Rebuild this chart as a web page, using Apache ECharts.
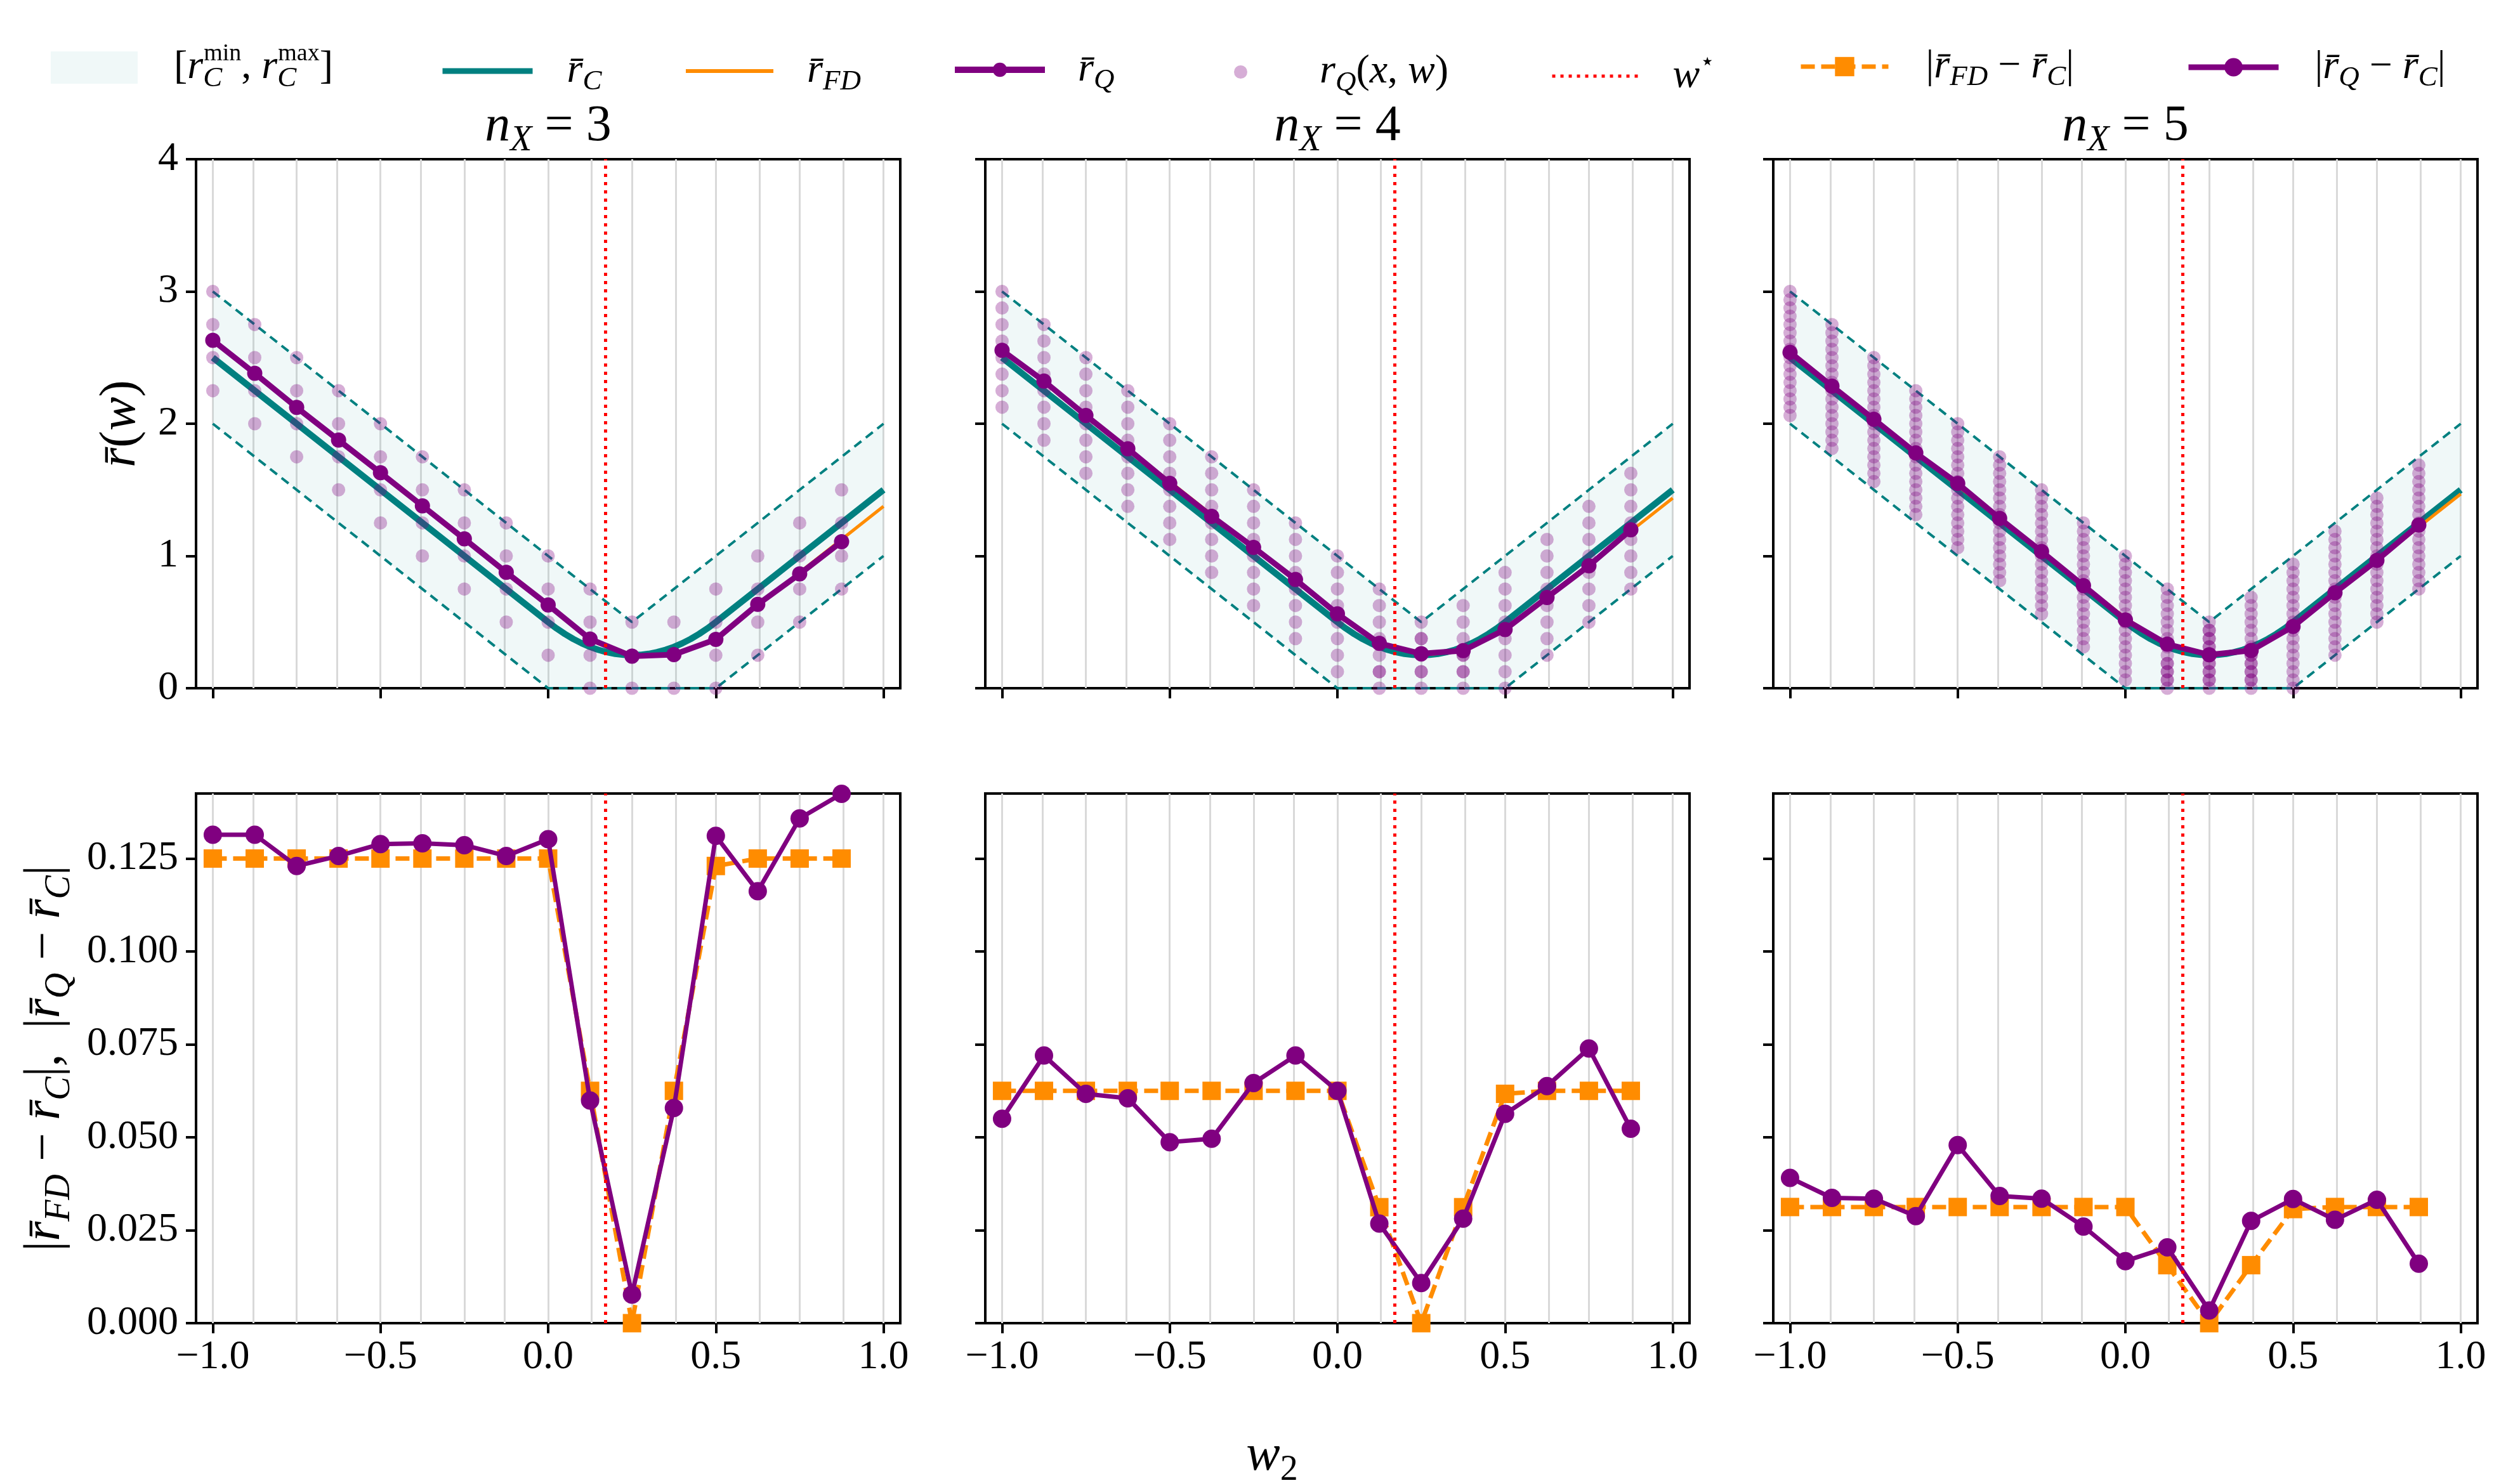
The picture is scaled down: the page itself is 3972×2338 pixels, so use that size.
<!DOCTYPE html>
<html>
<head>
<meta charset="utf-8">
<script src="https://cdn.jsdelivr.net/npm/echarts@6/dist/echarts.min.js"></script>
<style>
html, body { margin: 0; padding: 0; background: #fff; }
#chart { width: 3972px; height: 2338px; }
</style>
</head>
<body>
<div id="chart"></div>
<script>
// 采样点 w2
const wQ = [-1, -0.875, -0.75, -0.625, -0.5, -0.375, -0.25, -0.125, 0, 0.125, 0.25, 0.375, 0.5, 0.625, 0.75, 0.875];
const wFD = [-1, -0.875, -0.75, -0.625, -0.5, -0.375, -0.25, -0.125, 0, 0.125, 0.25, 0.375, 0.5, 0.625, 0.75, 0.875, 1];
const gridW = wFD;
const wStar = 0.1667;

// 区间 [r_C^min, r_C^max]
const bandW = [-1, 0, 0.25, 0.5, 1];
const bandMax = [3, 1, 0.5, 1, 2];
const bandMin = [2, 0, 0, 0, 1];

// r̄_C 连续曲线
const cW = [-1, 0, 0.025, 0.05, 0.075, 0.1, 0.125, 0.15, 0.175, 0.2, 0.225, 0.25, 0.275, 0.3, 0.325, 0.35, 0.375, 0.4, 0.425, 0.45, 0.475, 0.5, 1];
const cVal = [2.5, 0.5, 0.4525, 0.41, 0.3725, 0.34, 0.3125, 0.29, 0.2725, 0.26, 0.2525, 0.25, 0.2525, 0.26, 0.2725, 0.29, 0.3125, 0.34, 0.3725, 0.41, 0.4525, 0.5, 1.5];

// r̄_FD
const fd3 = [2.625, 2.375, 2.125, 1.875, 1.625, 1.375, 1.125, 0.875, 0.625, 0.375, 0.25, 0.25, 0.377, 0.625, 0.875, 1.125, 1.375];
const fd4 = [2.5625, 2.3125, 2.0625, 1.8125, 1.5625, 1.3125, 1.0625, 0.8125, 0.5625, 0.344, 0.25, 0.281, 0.438, 0.6875, 0.9375, 1.1875, 1.4375];
const fd5 = [2.531, 2.281, 2.031, 1.781, 1.531, 1.281, 1.031, 0.781, 0.531, 0.328, 0.25, 0.297, 0.469, 0.719, 0.969, 1.219, 1.469];

// r̄_Q
const q3 = [2.631, 2.381, 2.123, 1.876, 1.629, 1.379, 1.129, 0.876, 0.630, 0.372, 0.242, 0.254, 0.369, 0.634, 0.864, 1.108];
const q4 = [2.555, 2.322, 2.062, 1.811, 1.549, 1.300, 1.065, 0.822, 0.5625, 0.339, 0.261, 0.284, 0.444, 0.686, 0.926, 1.198];
const q5 = [2.539, 2.284, 2.034, 1.779, 1.548, 1.284, 1.034, 0.776, 0.517, 0.333, 0.253, 0.285, 0.467, 0.722, 0.967, 1.234];

// |r̄_FD - r̄_C|
const dfd3 = [0.125, 0.125, 0.125, 0.125, 0.125, 0.125, 0.125, 0.125, 0.125, 0.0625, 0, 0.0625, 0.123, 0.125, 0.125, 0.125];
const dfd4 = [0.0625, 0.0625, 0.0625, 0.0625, 0.0625, 0.0625, 0.0625, 0.0625, 0.0625, 0.0312, 0, 0.0312, 0.0617, 0.0625, 0.0625, 0.0625];
const dfd5 = [0.03125, 0.03125, 0.03125, 0.03125, 0.03125, 0.03125, 0.03125, 0.03125, 0.03125, 0.0156, 0, 0.0156, 0.0307, 0.03125, 0.03125, 0.03125];

// |r̄_Q - r̄_C|
const dq3 = [0.1314, 0.1314, 0.1230, 0.1257, 0.1289, 0.1291, 0.1286, 0.1257, 0.1302, 0.0599, 0.0077, 0.0579, 0.1311, 0.1162, 0.1358, 0.1424];
const dq4 = [0.0550, 0.0720, 0.0617, 0.0605, 0.0487, 0.0496, 0.0646, 0.0720, 0.0625, 0.0268, 0.0108, 0.0281, 0.0563, 0.0638, 0.0739, 0.0523];
const dq5 = [0.0391, 0.0337, 0.0335, 0.0288, 0.0479, 0.0342, 0.0335, 0.0260, 0.0167, 0.0204, 0.0034, 0.0275, 0.0334, 0.0278, 0.0332, 0.0160];

// r_Q(x, w) 散点，每列一个 w，单位为 dotStep
const dotStep = [0.25, 0.125, 0.0625];
const dots3 = [
  [12, 11, 10, 9], [11, 10, 9, 8], [10, 9, 8, 7], [9, 8, 7, 6], [8, 7, 6, 5], [7, 6, 5, 4], [6, 5, 4, 3], [5, 4, 3, 2],
  [4, 3, 2, 1], [3, 2, 1, 0], [2, 1, 0, 1], [1, 0, 1, 2], [0, 1, 2, 3], [1, 2, 3, 4], [2, 3, 4, 5], [3, 4, 5, 6]
];
const dots4 = [
  [24, 23, 22, 21, 20, 19, 18, 17], [22, 21, 20, 19, 18, 17, 16, 15], [20, 19, 18, 17, 16, 15, 14, 13], [18, 17, 16, 15, 14, 13, 12, 11],
  [16, 15, 14, 13, 12, 11, 10, 9], [14, 13, 12, 11, 10, 9, 8, 7], [12, 11, 10, 9, 8, 7, 6, 5], [10, 9, 8, 7, 6, 5, 4, 3],
  [8, 7, 6, 5, 4, 3, 2, 1], [6, 5, 4, 3, 2, 1, 0, 1], [4, 3, 2, 1, 0, 1, 2, 3], [2, 1, 0, 1, 2, 3, 4, 5],
  [0, 1, 2, 3, 4, 5, 6, 7], [2, 3, 4, 5, 6, 7, 8, 9], [4, 5, 6, 7, 8, 9, 10, 11], [6, 7, 8, 9, 10, 11, 12, 13]
];
const dots5 = [
  [48, 47, 46, 45, 44, 43, 42, 41, 40, 39, 38, 37, 36, 35, 34, 33],
  [44, 43, 42, 41, 40, 39, 38, 37, 36, 35, 34, 33, 32, 31, 30, 29],
  [40, 39, 38, 37, 36, 35, 34, 33, 32, 31, 30, 29, 28, 27, 26, 25],
  [36, 35, 34, 33, 32, 31, 30, 29, 28, 27, 26, 25, 24, 23, 22, 21],
  [32, 31, 30, 29, 28, 27, 26, 25, 24, 23, 22, 21, 20, 19, 18, 17],
  [28, 27, 26, 25, 24, 23, 22, 21, 20, 19, 18, 17, 16, 15, 14, 13],
  [24, 23, 22, 21, 20, 19, 18, 17, 16, 15, 14, 13, 12, 11, 10, 9],
  [20, 19, 18, 17, 16, 15, 14, 13, 12, 11, 10, 9, 8, 7, 6, 5],
  [16, 15, 14, 13, 12, 11, 10, 9, 8, 7, 6, 5, 4, 3, 2, 1],
  [12, 11, 10, 9, 8, 7, 6, 5, 4, 3, 2, 1, 0, 1, 2, 3],
  [8, 7, 6, 5, 4, 3, 2, 1, 0, 1, 2, 3, 4, 5, 6, 7],
  [4, 3, 2, 1, 0, 1, 2, 3, 4, 5, 6, 7, 8, 9, 10, 11],
  [0, 1, 2, 3, 4, 5, 6, 7, 8, 9, 10, 11, 12, 13, 14, 15],
  [4, 5, 6, 7, 8, 9, 10, 11, 12, 13, 14, 15, 16, 17, 18, 19],
  [8, 9, 10, 11, 12, 13, 14, 15, 16, 17, 18, 19, 20, 21, 22, 23],
  [12, 13, 14, 15, 16, 17, 18, 19, 20, 21, 22, 23, 24, 25, 26, 27]
];

const nXs = [3, 4, 5];
const xTicks = [-1, -0.5, 0, 0.5, 1];
const yBotTicks = [0, 0.025, 0.05, 0.075, 0.1, 0.125];
const yBotMax = 0.1425;

const panels = [
  { fd: fd3, q: q3, dots: dots3, dfd: dfd3, dq: dq3 },
  { fd: fd4, q: q4, dots: dots4, dfd: dfd4, dq: dq4 },
  { fd: fd5, q: q5, dots: dots5, dfd: dfd5, dq: dq5 }
];

// 颜色与字体
const TEAL = '#008080', ORANGE = '#ff8c00', PURPLE = '#800080', RED = '#ff0000';
const BAND_FILL = 'rgba(0,128,128,0.06)';
const DOT_FILL = 'rgba(128,0,128,0.4)';
const SERIF = 'Liberation Serif';

function rich(size) {
  const base = { fontFamily: SERIF, fontWeight: 'normal', color: '#000' };
  const lh = Math.round(size * 1.25);
  const s = Math.round(size * 0.7);
  const p = Math.round(size * 0.6);
  return {
    n: Object.assign({}, base, { fontSize: size, lineHeight: lh }),
    m: Object.assign({}, base, { fontStyle: 'italic', fontSize: size, lineHeight: lh }),
    sub: Object.assign({}, base, { fontStyle: 'italic', fontSize: s, lineHeight: s, verticalAlign: 'bottom' }),
    subn: Object.assign({}, base, { fontSize: s, lineHeight: s, verticalAlign: 'bottom' }),
    subk: Object.assign({}, base, { fontStyle: 'italic', fontSize: s, lineHeight: s, verticalAlign: 'bottom', width: 1 }),
    supn: Object.assign({}, base, { fontSize: p, lineHeight: p, verticalAlign: 'top' }),
    star: Object.assign({}, base, { fontFamily: 'DejaVu Sans', fontSize: p, lineHeight: p, verticalAlign: 'top' })
  };
}

const RB = 'r\u0304';
const legendText = {
  band: '{n|[}{m|r}{subk|C}{supn|min}{n|, }{m|r}{subk|C}{supn|max}{n|]}',
  rC: '{m|' + RB + '}{sub|C}',
  rFD: '{m|' + RB + '}{sub|FD}',
  rQ: '{m|' + RB + '}{sub|Q}',
  rQx: '{m|r}{sub|Q}{n|(}{m|x}{n|, }{m|w}{n|)}',
  wstar: '{m|w}{star|\u22c6}',
  dFD: '{n||}{m|' + RB + '}{sub|FD}{n| \u2212 }{m|' + RB + '}{sub|C}{n||}',
  dQ: '{n||}{m|' + RB + '}{sub|Q}{n| \u2212 }{m|' + RB + '}{sub|C}{n||}'
};

// 布局
const colLeft = [309, 1553, 2795];
const PW = 1110;
const TOP_Y = 251, TOP_H = 834, BOT_Y = 1251, BOT_H = 835;
const LEG_Y = 92;

const grids = [], xAxes = [], yAxes = [], series = [];
for (let r = 0; r < 2; r++) {
  for (let c = 0; c < 3; c++) {
    const g = r * 3 + c;
    grids.push({
      left: colLeft[c], top: r === 0 ? TOP_Y : BOT_Y, width: PW, height: r === 0 ? TOP_H : BOT_H,
      show: true, borderColor: '#000', borderWidth: 4, backgroundColor: 'transparent', outerBoundsMode: 'none'
    });
    xAxes.push({
      gridIndex: g, type: 'value', min: -1.05, max: 1.05, position: 'bottom',
      axisLine: { show: false, onZero: false }, splitLine: { show: false },
      axisTick: { show: true, customValues: xTicks, length: 16, lineStyle: { color: '#000', width: 4 } },
      axisLabel: {
        show: r === 1, customValues: xTicks, margin: 22, fontFamily: SERIF, fontSize: 64, color: '#000',
        formatter: v => (v < 0 ? '\u2212' : '') + Math.abs(v).toFixed(1)
      }
    });
    yAxes.push(r === 0 ? {
      gridIndex: g, type: 'value', min: 0, max: 4, interval: 1, position: 'left',
      axisLine: { show: false, onZero: false }, splitLine: { show: false },
      axisTick: { show: true, length: 16, lineStyle: { color: '#000', width: 4 } },
      axisLabel: { show: c === 0, margin: 28, fontFamily: SERIF, fontSize: 64, color: '#000' }
    } : {
      gridIndex: g, type: 'value', min: 0, max: yBotMax, position: 'left',
      axisLine: { show: false, onZero: false }, splitLine: { show: false },
      axisTick: { show: true, customValues: yBotTicks, length: 16, lineStyle: { color: '#000', width: 4 } },
      axisLabel: { show: c === 0, customValues: yBotTicks, margin: 28, fontFamily: SERIF, fontSize: 64, color: '#000', formatter: v => v.toFixed(3) }
    });

    // 竖直网格线
    series.push({
      type: 'line', xAxisIndex: g, yAxisIndex: g, data: [], silent: true, symbol: 'none',
      markLine: {
        silent: true, symbol: 'none', z: 1, animation: false, label: { show: false },
        lineStyle: { color: '#d9d9d9', width: 3, type: 'solid' },
        data: gridW.map(v => ({ xAxis: v }))
      }
    });
    // w*
    series.push({
      type: 'line', name: 'wstar', xAxisIndex: g, yAxisIndex: g, data: [], silent: true, symbol: 'none',
      lineStyle: { color: RED, width: 5, type: [5, 8] }, itemStyle: { color: RED },
      markLine: {
        silent: true, symbol: 'none', z: 20, animation: false, label: { show: false },
        lineStyle: { color: RED, width: 5, type: [5, 8] },
        data: [{ xAxis: wStar }]
      }
    });
  }
}

panels.forEach((p, i) => {
  // 区间阴影
  series.push({
    type: 'custom', name: 'band', xAxisIndex: i, yAxisIndex: i, z: 2, silent: true,
    itemStyle: { color: BAND_FILL }, data: [[0, 0]],
    renderItem: (params, api) => {
      const pts = [];
      for (let k = 0; k < bandW.length; k++) pts.push(api.coord([bandW[k], bandMax[k]]));
      for (let k = bandW.length - 1; k >= 0; k--) pts.push(api.coord([bandW[k], bandMin[k]]));
      return { type: 'polygon', shape: { points: pts }, style: { fill: BAND_FILL } };
    }
  });
  [bandMax, bandMin].forEach(edge => {
    series.push({
      type: 'line', xAxisIndex: i, yAxisIndex: i, z: 3, silent: true, symbol: 'none',
      lineStyle: { color: TEAL, width: 4, type: [14, 9] },
      data: bandW.map((w, k) => [w, edge[k]])
    });
  });
  series.push({
    type: 'line', name: 'rC', xAxisIndex: i, yAxisIndex: i, z: 4, silent: true, symbol: 'none',
    lineStyle: { color: TEAL, width: 10 }, itemStyle: { color: TEAL },
    data: cW.map((w, k) => [w, cVal[k]])
  });
  series.push({
    type: 'line', name: 'rFD', xAxisIndex: i, yAxisIndex: i, z: 5, silent: true, symbol: 'none',
    lineStyle: { color: ORANGE, width: 5 }, itemStyle: { color: ORANGE },
    data: wFD.map((w, k) => [w, p.fd[k]])
  });
  const dotData = [];
  p.dots.forEach((col, j) => col.forEach(v => dotData.push([wQ[j], v * dotStep[i]])));
  series.push({
    type: 'scatter', name: 'rQx', xAxisIndex: i, yAxisIndex: i, z: 6, silent: true,
    symbol: 'circle', symbolSize: 21, itemStyle: { color: DOT_FILL }, data: dotData
  });
  series.push({
    type: 'line', name: 'rQ', xAxisIndex: i, yAxisIndex: i, z: 7, silent: true,
    symbol: 'circle', symbolSize: 24, showAllSymbol: true,
    lineStyle: { color: PURPLE, width: 9 }, itemStyle: { color: PURPLE },
    data: wQ.map((w, k) => [w, p.q[k]])
  });
  // 下排：误差
  series.push({
    type: 'line', name: 'dFD', xAxisIndex: i + 3, yAxisIndex: i + 3, z: 6, silent: true,
    symbol: 'rect', symbolSize: 29, showAllSymbol: true,
    lineStyle: { color: ORANGE, width: 7, type: [22, 10] }, itemStyle: { color: ORANGE },
    data: wQ.map((w, k) => [w, p.dfd[k]])
  });
  series.push({
    type: 'line', name: 'dQ', xAxisIndex: i + 3, yAxisIndex: i + 3, z: 7, silent: true,
    symbol: 'circle', symbolSize: 29, showAllSymbol: true,
    lineStyle: { color: PURPLE, width: 7 }, itemStyle: { color: PURPLE },
    data: wQ.map((w, k) => [w, p.dq[k]])
  });
});

// 图例：每项单独定位
// [name, 左, 图标宽, 图标高, 文字间距, 线宽, 隐藏符号]
const legendSpec = [
  ['band', 80, 137, 51, 52, 0, false],
  ['rC', 693, 142, 24, 49, 9, true],
  ['rFD', 1078, 138, 24, 48, 6, true],
  ['rQ', 1500, 142, 28, 47, 10, false],
  ['rQx', 1945, 21, 21, 109, 0, false],
  ['wstar', 2444, 138, 24, 47, 5, true],
  ['dFD', 2835, 138, 38, 54, 7, false],
  ['dQ', 3445, 142, 36, 52, 9, false]
];
const legends = legendSpec.map(([name, left, w, h, pad, lw, hideSym]) => {
  const item = { name };
  if (name === 'band') item.icon = 'rect';
  if (name === 'rQx') item.icon = 'circle';
  const lg = {
    data: [item], left, top: LEG_Y - h / 2, itemWidth: w, itemHeight: h, padding: 0,
    selectedMode: false, orient: 'horizontal',
    formatter: () => legendText[name],
    textStyle: { fontFamily: SERIF, fontSize: 64, rich: rich(64), padding: [0, 0, 0, pad] }
  };
  if (lw) lg.lineStyle = { width: lw };
  if (hideSym) lg.itemStyle = { opacity: 0 };
  return lg;
});

const titles = nXs.map((n, i) => ({
  text: '{m|n}{sub|X}{n| = ' + n + '}',
  left: colLeft[i] + PW / 2, top: 150, textAlign: 'center', padding: 0,
  textStyle: { fontFamily: SERIF, fontWeight: 'normal', fontSize: 80, color: '#000', rich: rich(80) }
}));

const option = {
  animation: false,
  backgroundColor: '#fff',
  textStyle: { fontFamily: SERIF },
  title: titles,
  legend: legends,
  grid: grids,
  xAxis: xAxes,
  yAxis: yAxes,
  series: series,
  graphic: [
    {
      type: 'text', x: 191, y: (TOP_Y + TOP_H / 2), rotation: Math.PI / 2,
      style: { text: '{m|' + RB + '}{n|(}{m|w}{n|)}', rich: rich(80), fontFamily: SERIF, align: 'center', verticalAlign: 'middle' }
    },
    {
      type: 'text', x: 72, y: (BOT_Y + BOT_H / 2), rotation: Math.PI / 2,
      style: {
        text: '{n||}{m|' + RB + '}{sub|FD}{n| \u2212 }{m|' + RB + '}{sub|C}{n||,  |}{m|' + RB + '}{sub|Q}{n| \u2212 }{m|' + RB + '}{sub|C}{n||}',
        rich: rich(80), fontFamily: SERIF, align: 'center', verticalAlign: 'middle'
      }
    },
    {
      type: 'text', x: 2005, y: 2296,
      style: { text: '{m|w}{subn|2}', rich: rich(80), fontFamily: SERIF, align: 'center', verticalAlign: 'middle' }
    }
  ]
};

const chart = echarts.init(document.getElementById('chart'), null, { renderer: 'canvas' });
chart.setOption(option);
</script>
</body>
</html>
